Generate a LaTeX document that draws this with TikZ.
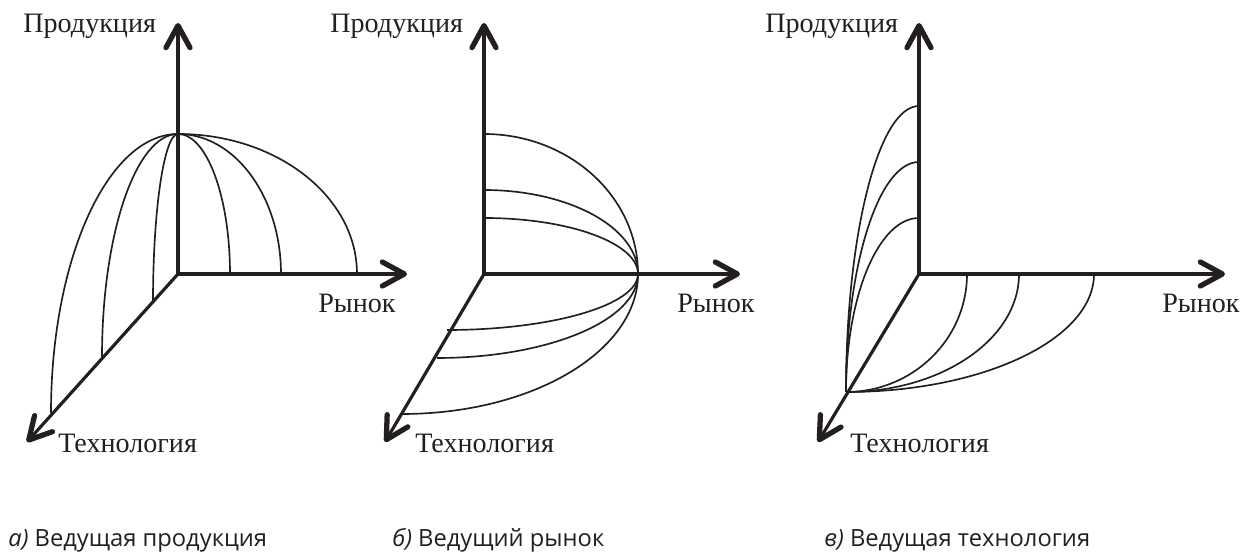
\documentclass[tikz,border=0pt]{standalone}
\usepackage{fontspec}
\setmainfont{Liberation Serif}
\newfontfamily\capfont{Open Sans}
\usetikzlibrary{arrows.meta}
\usepackage{xcolor}
\definecolor{FigInk}{HTML}{231F20}
\tikzset{
  axisarrow/.style={-{Straight Barb[length=4.4mm,width=4.8mm,line width=3pt,round]},line width=1.8pt,draw=FigInk},
  curve/.style={line width=0.95pt,draw=FigInk},
  axislabel/.style={anchor=base west,inner sep=0pt,font=\fontsize{16}{18}\selectfont,text=FigInk},
  caption/.style={anchor=base west,inner sep=0pt,font=\capfont\fontsize{13.5}{15}\selectfont,text=FigInk}
}

\begin{document}
\begin{tikzpicture}[x=0.02cm,y=0.02cm]
  \useasboundingbox (0,0) rectangle (1249,557);

  % а) leading product
  \coordinate (a-o) at (178,283);
  \coordinate (a-y) at (178,534);
  \coordinate (a-x) at (407,283);
  \coordinate (a-z) at (27,115);
  \coordinate (a-top) at (178,423);
  \foreach \rx in {52,103,179}
    \draw[curve] (a-top) arc[start angle=90,end angle=0,x radius=\rx,y radius=140];
  \foreach \rx/\ry in {25/168,76/223,127/279}
    \draw[curve] (a-top) arc[start angle=90,end angle=180,x radius=\rx,y radius=\ry];
  \draw[axisarrow] (a-o) -- (a-y);
  \draw[axisarrow] (a-o) -- (a-x);
  \draw[axisarrow] (a-o) -- (a-z);
  \node[axislabel] (a-prod) at (23,524) {Продукция};
  \node[axislabel] (a-market) at (318,244) {Рынок};
  \node[axislabel] (a-tech) at (58,104) {Технология};

  % б) leading market
  \coordinate (b-o) at (484,283);
  \coordinate (b-y) at (484,534);
  \coordinate (b-x) at (740,283);
  \coordinate (b-z) at (385,115);
  \coordinate (b-mid) at (638,283);
  \foreach \y/\ry in {423/140,367/84,339/56}
    \draw[curve] (484,\y) arc[start angle=90,end angle=0,x radius=154,y radius=\ry];
  \foreach \rx/\ry in {191/56,201/84,236/140}
    \draw[curve] (b-mid) arc[start angle=0,end angle=-90,x radius=\rx,y radius=\ry];
  \draw[axisarrow] (b-o) -- (b-y);
  \draw[axisarrow] (b-o) -- (b-x);
  \draw[axisarrow] (b-o) -- (b-z);
  \node[axislabel] (b-prod) at (330,524) {Продукция};
  \node[axislabel] (b-market) at (677,244) {Рынок};
  \node[axislabel] (b-tech) at (415,104) {Технология};

  % в) leading technology
  \coordinate (c-o) at (919,283);
  \coordinate (c-y) at (919,534);
  \coordinate (c-x) at (1225,283);
  \coordinate (c-z) at (818,115);
  \foreach \y/\ry in {451/286,395/230,339/174}
    \draw[curve] (919,\y) arc[start angle=90,end angle=180,x radius=73,y radius=\ry];
  \foreach \x/\rx in {967/121,1019/173,1094/248}
    \draw[curve] (\x,283) arc[start angle=0,end angle=-90,x radius=\rx,y radius=118];
  \draw[axisarrow] (c-o) -- (c-y);
  \draw[axisarrow] (c-o) -- (c-x);
  \draw[axisarrow] (c-o) -- (c-z);
  \node[axislabel] (c-prod) at (765,524) {Продукция};
  \node[axislabel] (c-market) at (1162,244) {Рынок};
  \node[axislabel] (c-tech) at (850,104) {Технология};

  % captions
  \node[caption] (a-cap) at (8,10) {\textit{а)} Ведущая продукция};
  \node[caption] (b-cap) at (392,10) {\textit{б)} Ведущий рынок};
  \node[caption] (c-cap) at (824,10) {\textit{в)} Ведущая технология};
\end{tikzpicture}
\end{document}
